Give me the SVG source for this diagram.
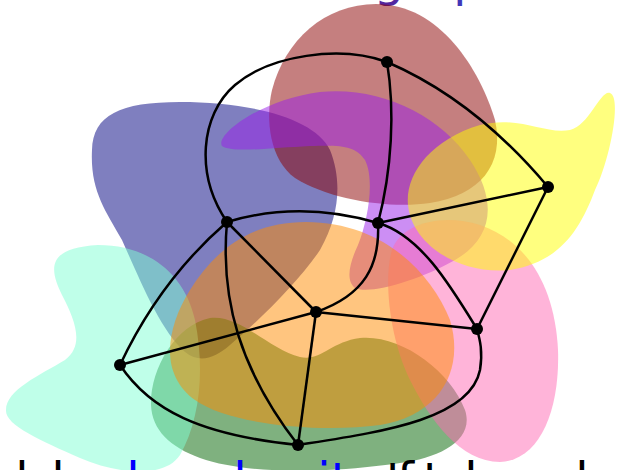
<svg xmlns="http://www.w3.org/2000/svg" width="617" height="470" viewBox="0 0 617 470">
<defs>
<linearGradient id="tg" gradientUnits="userSpaceOnUse" x1="374" y1="0" x2="514" y2="0">
<stop offset="0" stop-color="#552299"/>
<stop offset="1" stop-color="#3344cc"/>
</linearGradient>
<style>
.blob{opacity:0.5;stroke:none}
.e{fill:none;stroke:#000;stroke-width:2.5}
.n{fill:#000}
.t{font-family:"DejaVu Sans",sans-serif;font-size:48px;fill:#000}
.hl{fill:#0000ff}
</style>
</defs>
<rect width="617" height="470" fill="#fff"/>
<text x="373.7" y="-4" font-family="DejaVu Sans, sans-serif" font-size="48" fill="url(#tg)">graph</text>
<g id="blobs">
<path id="blob-navy" class="blob" fill="#000080" d="M92,150 C90,190 105,210 122,240 C140,280 160,330 185,352 C200,364 215,358 230,345 C260,320 300,280 320,250 C340,215 342,180 330,150 C315,118 250,102 180,102 C120,102 93,115 92,150 Z"/>
<path id="blob-darkred" class="blob" fill="#8b0000" d="M376,4 C440,4 480,70 495,120 C505,165 480,195 430,203 C390,209 330,200 295,178 C270,160 265,120 272,90 C285,40 325,4 376,4 Z"/>
<path id="blob-purple" class="blob" fill="#9a1eea" d="M222,146 C215,135 260,100 320,92 C380,86 440,115 470,160 C500,205 490,240 455,260 C420,280 370,295 355,288 C345,280 350,262 358,245 C368,220 375,180 365,160 C355,145 340,145 310,146 C270,148 232,153 222,146 Z"/>
<path id="blob-green" class="blob" fill="#006400" d="M151,405 C150,370 175,325 210,318 C240,314 270,350 300,357 C320,362 330,342 360,338 C400,334 450,370 465,410 C475,440 440,458 400,463 C340,472 250,476 200,458 C170,447 152,430 151,405 Z"/>
<path id="blob-pink" class="blob" fill="#ff69b4" d="M392,250 C400,225 440,212 480,225 C530,242 555,290 558,350 C560,410 540,460 500,462 C460,462 430,420 410,380 C390,340 383,280 392,250 Z"/>
<path id="blob-yellow" class="blob" fill="#ffff00" d="M408,205 C405,175 430,140 480,125 C520,115 545,135 570,130 C590,125 600,90 610,93 C622,97 610,160 595,190 C580,230 560,262 510,270 C460,275 412,245 408,205 Z"/>
<path id="blob-aqua" class="blob" fill="#7fffd4" d="M98,245 C150,245 185,275 195,320 C205,370 200,420 180,455 C165,478 120,475 80,458 C40,440 5,425 6,410 C6,390 40,375 65,360 C85,345 75,320 62,295 C50,270 45,248 98,245 Z"/>
<path id="blob-orange" class="blob" fill="#ff8c00" d="M306,222 C380,222 430,270 450,320 C465,370 440,415 380,425 C320,433 230,425 195,400 C160,375 165,330 190,290 C215,250 250,222 306,222 Z"/>
</g>
<g id="edges">
<path class="e" d="M387,62 Q475,100 548,187"/>
<path class="e" d="M387,62 C395,110 392,170 378,223"/>
<path class="e" d="M387,62 C340,45 270,55 235,85 C200,115 195,175 227,222"/>
<path class="e" d="M227,222 Q300,200 378,223"/>
<path class="e" d="M378,223 L548,187"/>
<path class="e" d="M548,187 L477,329"/>
<path class="e" d="M378,223 C420,235 450,285 477,329"/>
<path class="e" d="M378,223 C380,265 365,295 316,312"/>
<path class="e" d="M227,222 L316,312"/>
<path class="e" d="M227,222 Q160,280 120,365"/>
<path class="e" d="M227,222 C220,300 240,370 298,445"/>
<path class="e" d="M316,312 L120,365"/>
<path class="e" d="M316,312 L477,329"/>
<path class="e" d="M316,312 L298,445"/>
<path class="e" d="M120,365 C150,410 200,435 298,445"/>
<path class="e" d="M298,445 C380,432 470,420 480,370 C483,352 480,340 477,329"/>
</g>
<g id="node-a"><circle class="n" cx="387" cy="62" r="6"/></g>
<g id="node-b"><circle class="n" cx="548" cy="187" r="6"/></g>
<g id="node-c"><circle class="n" cx="378" cy="223" r="6"/></g>
<g id="node-d"><circle class="n" cx="227" cy="222" r="6"/></g>
<g id="node-e"><circle class="n" cx="316" cy="312" r="6"/></g>
<g id="node-f"><circle class="n" cx="477" cy="329" r="6"/></g>
<g id="node-g"><circle class="n" cx="120" cy="365" r="6"/></g>
<g id="node-h"><circle class="n" cx="298" cy="445" r="6"/></g>
<text class="t" y="496.5"><tspan x="15.3 28.6 51.5">lob</tspan><tspan x="126.5" class="hl">bounce</tspan><tspan x="233.5" class="hl">box</tspan><tspan x="317.3" class="hl">it</tspan><tspan x="386 400 397 423">tuft</tspan><tspan x="464.3">loose</tspan><tspan x="575.3">lemon</tspan></text>
</svg>
